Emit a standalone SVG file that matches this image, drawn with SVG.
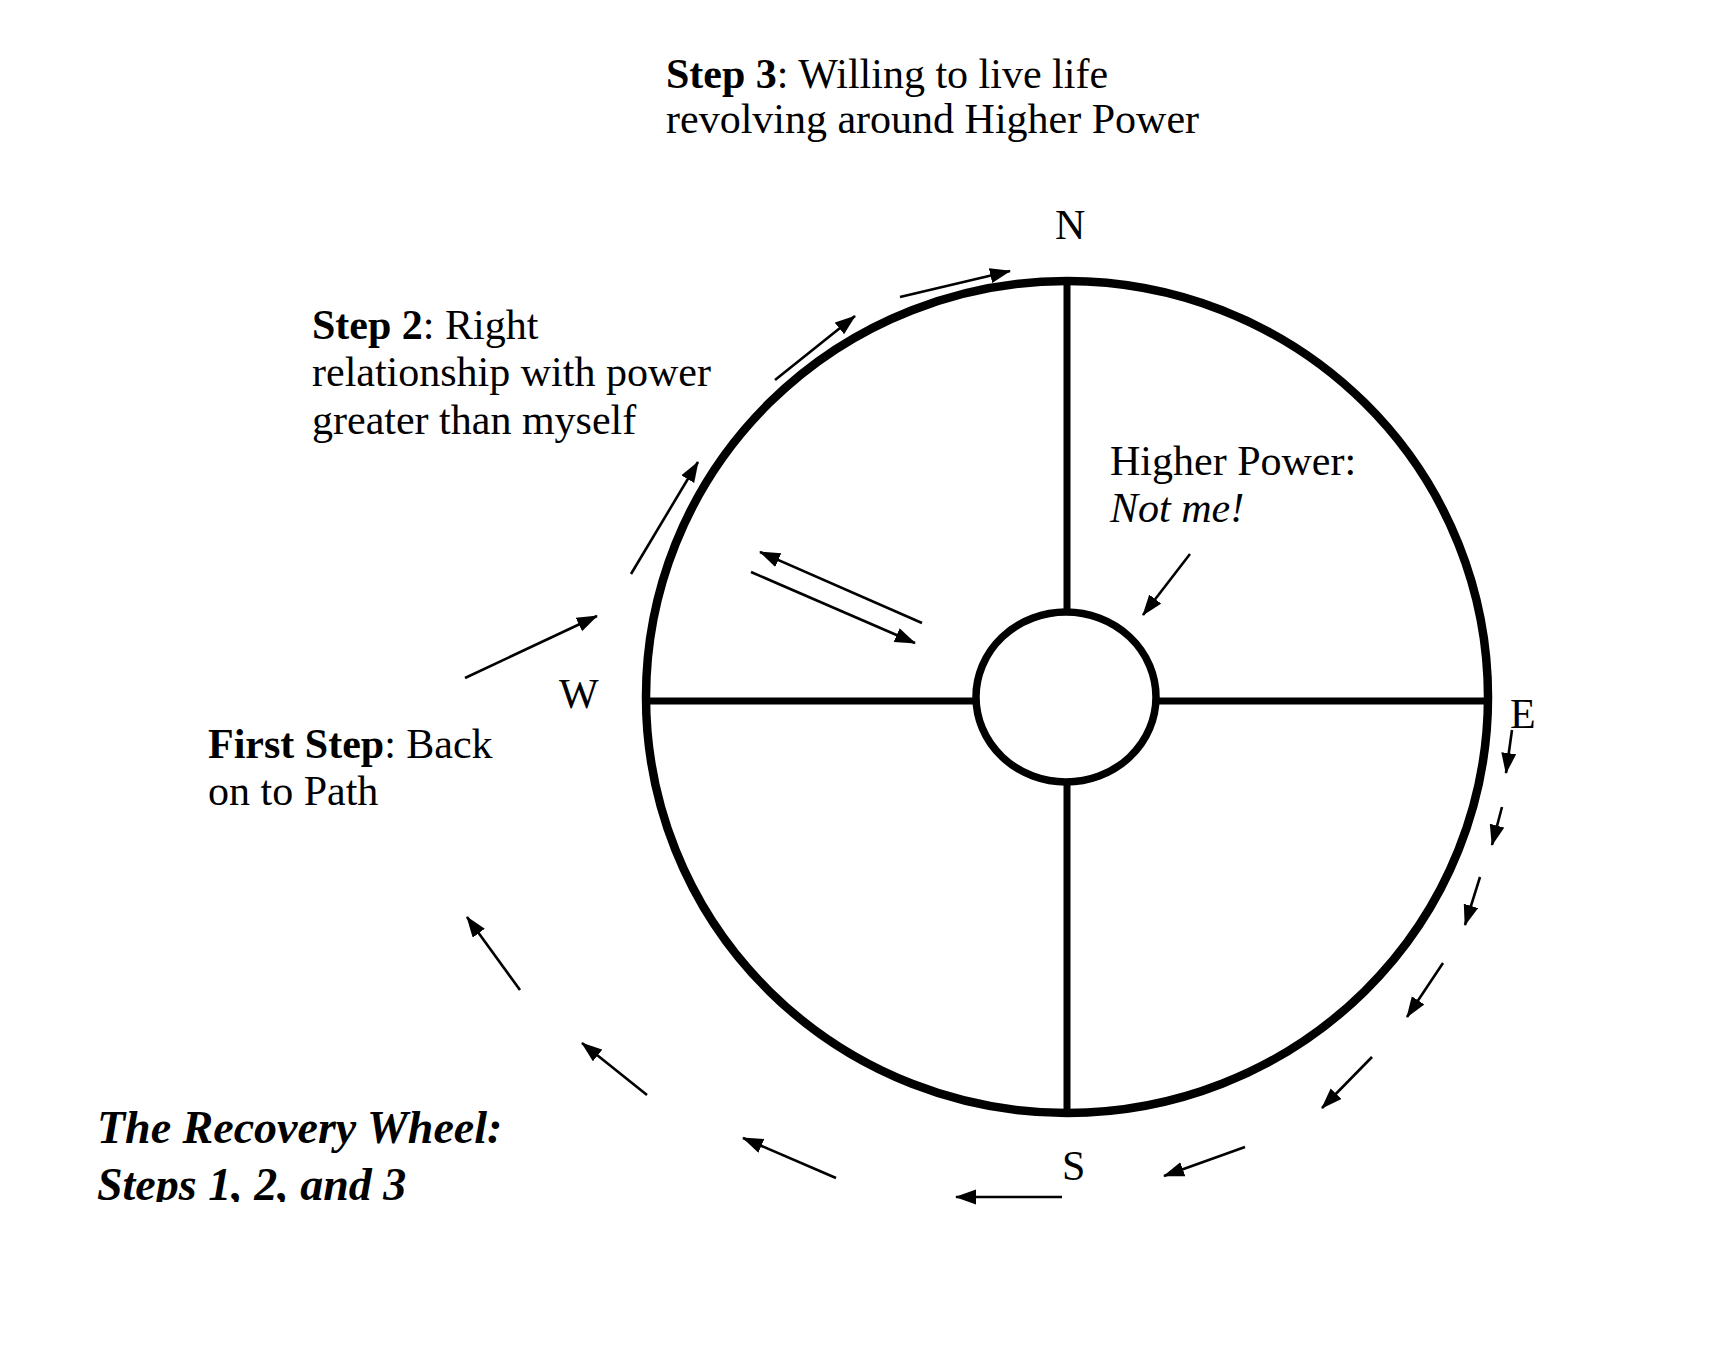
<svg xmlns="http://www.w3.org/2000/svg" width="1722" height="1346" viewBox="0 0 1722 1346">
  <style>
    .t { font-family: "Liberation Serif", "Times New Roman", serif; font-size: 42px; fill: #000; }
    .b { font-weight: bold; }
    .i { font-style: italic; }
    .title { font-family: "Liberation Serif", "Times New Roman", serif; font-size: 46px; font-weight: bold; font-style: italic; fill: #000; }
    .wheel { fill: none; stroke: #000; }
    .arr { stroke: #000; stroke-width: 2.6; fill: none; marker-end: url(#ah); }
  </style>
  <defs>
    <marker id="ah" markerUnits="userSpaceOnUse" markerWidth="22" markerHeight="16" refX="20" refY="7.5" orient="auto">
      <path d="M0,0 L21,7.5 L0,15 z" fill="#000"/>
    </marker>
    <clipPath id="titleClip">
      <rect x="0" y="1080" width="700" height="122"/>
    </clipPath>
  </defs>
  <rect width="1722" height="1346" fill="#fff"/>

  <g id="wheel">
    <ellipse class="wheel" cx="1067" cy="697" rx="421" ry="416" stroke-width="8.5"/>
    <line class="wheel" x1="646" y1="701" x2="976" y2="701" stroke-width="7"/>
    <line class="wheel" x1="1156" y1="701" x2="1488" y2="701" stroke-width="7"/>
    <line class="wheel" x1="1067" y1="281" x2="1067" y2="612" stroke-width="7"/>
    <line class="wheel" x1="1067" y1="782" x2="1067" y2="1113" stroke-width="7"/>
  </g>
  <g id="hub">
    <ellipse class="wheel" cx="1066" cy="697" rx="90" ry="85" stroke-width="7.5"/>
  </g>

  <g id="label-N"><text class="t" x="1055" y="239">N</text></g>
  <g id="label-E"><text class="t" x="1510" y="728">E</text></g>
  <g id="label-S"><text class="t" x="1062" y="1180">S</text></g>
  <g id="label-W"><text class="t" x="559" y="708">W</text></g>

  <g id="step3">
    <text class="t" x="666" y="88"><tspan class="b">Step 3</tspan>: Willing to live life</text>
    <text class="t" x="666" y="133">revolving around Higher Power</text>
  </g>
  <g id="step2">
    <text class="t" x="312" y="339"><tspan class="b">Step 2</tspan>: Right</text>
    <text class="t" x="312" y="386">relationship with power</text>
    <text class="t" x="312" y="434">greater than myself</text>
  </g>
  <g id="step1">
    <text class="t" x="208" y="758"><tspan class="b">First Step</tspan>: Back</text>
    <text class="t" x="208" y="805">on to Path</text>
  </g>
  <g id="higher-power">
    <text class="t" x="1110" y="475">Higher Power:</text>
    <text class="t i" x="1110" y="522">Not me!</text>
  </g>
  <g id="title" clip-path="url(#titleClip)">
    <text class="title" x="97" y="1143">The Recovery Wheel:</text>
    <text class="title" x="97" y="1200">Steps 1, 2, and 3</text>
  </g>

  <g id="connectors">
    <line class="arr" x1="465" y1="678" x2="597" y2="616"/>
    <line class="arr" x1="631" y1="574" x2="698" y2="462"/>
    <line class="arr" x1="775" y1="380" x2="855" y2="316"/>
    <line class="arr" x1="900" y1="297" x2="1010" y2="271"/>
    <line class="arr" x1="922" y1="623" x2="760" y2="552"/>
    <line class="arr" x1="751" y1="572" x2="915" y2="643"/>
    <line class="arr" x1="1190" y1="554" x2="1143" y2="615"/>
    <line class="arr" x1="1512" y1="730" x2="1506" y2="773"/>
    <line class="arr" x1="1502" y1="807" x2="1492" y2="845"/>
    <line class="arr" x1="1480" y1="877" x2="1465" y2="925"/>
    <line class="arr" x1="1443" y1="963" x2="1407" y2="1017"/>
    <line class="arr" x1="1372" y1="1057" x2="1322" y2="1108"/>
    <line class="arr" x1="1245" y1="1147" x2="1164" y2="1176"/>
    <line class="arr" x1="1062" y1="1197" x2="956" y2="1197"/>
    <line class="arr" x1="836" y1="1178" x2="743" y2="1138"/>
    <line class="arr" x1="647" y1="1095" x2="582" y2="1043"/>
    <line class="arr" x1="520" y1="990" x2="467" y2="917"/>
  </g>
</svg>
